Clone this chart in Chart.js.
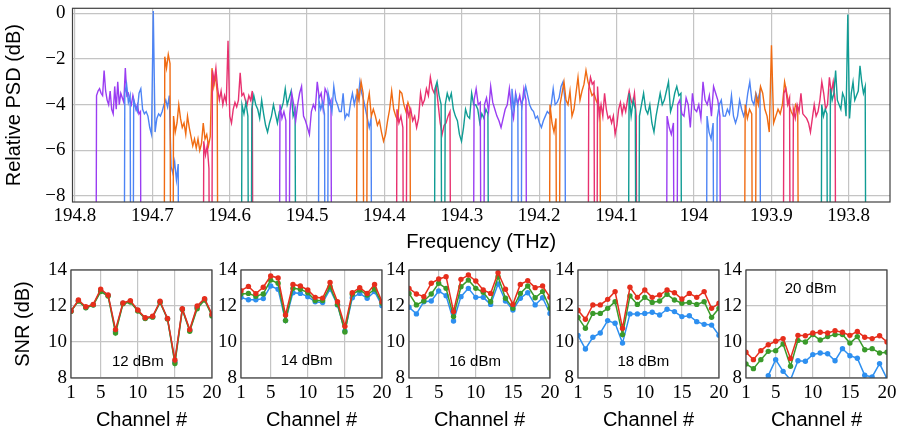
<!DOCTYPE html>
<html>
<head>
<meta charset="utf-8">
<script src="https://cdn.jsdelivr.net/npm/chart.js@4.4.1/dist/chart.umd.min.js"></script>
<style>
    body { margin: 0; background: #fff; }
    #wrap { position: relative; width: 901px; height: 434px; overflow: hidden; }
    canvas { position: absolute; }
</style>
</head>
<body>
<div id="wrap">
    <canvas id="psd" width="901" height="256" style="left:0;top:0;"></canvas>
</div>
<script>
// ---- top panel: measured spectrum, one trace per channel (-30 = drop below axis) ----
const freqTicks = [194.8, 194.7, 194.6, 194.5, 194.4, 194.3, 194.2, 194.1, 194.0, 193.9, 193.8];
const freqLabels = ['194.8', '194.7', '194.6', '194.5', '194.4', '194.3', '194.2', '194.1', '194', '193.9', '193.8'];
const psdTicks = [0, -2, -4, -6, -8];
const psdLabels = ['0', '\u22122', '\u22124', '\u22126', '\u22128'];

const chStart = [194.774, 194.7378, 194.6861, 194.6357, 194.5866, 194.5375, 194.4871, 194.4380, 194.3863, 194.3372,
                 194.2868, 194.2377, 194.1886, 194.1382, 194.0865, 194.0374, 193.9857, 193.9366, 193.8862, 193.8371];
const chEnd   = [194.7133, 194.6642, 194.6138, 194.5685, 194.5129, 194.4665, 194.4148, 194.3643, 194.3127, 194.2636,
                 194.2144, 194.1641, 194.1188, 194.0723, 194.0141, 193.9637, 193.9120, 193.8630, 193.8151, 193.7764];

const ch1 = [-30, -3.6, -3.4, -3.3, -3.5, -3.6, -2.5, -3.4, -3.8, -4.0, -3.4, -4.2, -4.4, -3.2, -4.2, -3.0, -4.0, -3.5, -3.7, -3.9, -2.4, -3.6, -3.5, -3.8, -4.0, -3.6, -3.9, -4.2, -4.0, -4.4, -4.3, -30];
const ch2 = [-30, -3.5, -3.1, -3.9, -3.6, -30, -3.8, -4.1, -4.3, -3.5, -3.3, -4.2, -4.4, -4.3, -4.5, -5.0, -5.3, 0.1, -5.2, -4.6, -4.4, -4.5, -4.3, -4.0, -3.8, -4.1, -3.6, -6.7, -7.0, -6.5, -7.3, -6.6, -30];
const ch3 = [-30, -1.9, -2.4, -1.8, -2.2, -30, -4.5, -5.2, -4.8, -4.0, -4.6, -5.0, -4.8, -5.3, -4.5, -5.0, -5.4, -5.8, -5.5, -5.9, -5.5, -6.0, -5.7, -4.8, -5.5, -5.3, -5.8, -5.4, -2.4, -3.2, -2.7, -3.5, -30];
const ch4 = [-30, -5.6, -6.2, -5.8, -6.8, -30, -2.5, -3.0, -2.4, -3.3, -3.8, -3.4, -4.0, -3.6, -3.9, -1.2, -4.5, -4.8, -4.2, -3.9, -4.1, -3.8, -2.6, -3.6, -3.5, -3.8, -4.0, -3.6, -3.8, -3.4, -30];
const ch5 = [-30, -4.0, -4.4, -3.9, -4.5, -30, -4.2, -3.6, -4.0, -4.2, -4.6, -3.8, -4.4, -4.9, -5.2, -4.8, -4.5, -4.0, -4.4, -4.8, -4.3, -4.2, -3.9, -3.3, -4.0, -3.7, -3.4, -4.5, -4.2, -30];
const ch6 = [-30, -4.0, -4.6, -4.3, -4.7, -30, -4.4, -3.5, -4.0, -4.7, -4.0, -3.5, -3.2, -4.5, -4.7, -5.0, -5.3, -4.3, -4.0, -4.2, -3.0, -3.7, -3.5, -4.2, -3.3, -3.5, -4.0, -3.8, -30];
const ch7 = [-30, -3.8, -4.2, -3.9, -4.4, -30, -3.5, -3.9, -4.3, -3.2, -3.8, -4.0, -4.3, -4.3, -3.5, -4.6, -4.4, -4.5, -3.9, -3.5, -4.0, -3.6, -3.8, -3.0, -3.5, -3.8, -4.2, -4.6, -5.0, -4.6, -30];
const ch8 = [-30, -3.3, -3.8, -3.0, -3.5, -30, -4.0, -3.5, -4.5, -4.2, -4.5, -4.9, -4.7, -5.2, -5.6, -5.3, -4.7, -4.2, -3.4, -4.2, -4.5, -4.7, -3.4, -3.5, -4.0, -4.3, -3.9, -4.2, -30];
const ch9 = [-30, -4.2, -4.8, -4.5, -5.0, -30, -4.0, -4.5, -4.2, -4.7, -4.5, -5.0, -4.6, -3.5, -4.0, -3.8, -3.3, -3.6, -2.8, -3.3, -3.5, -3.2, -4.0, -4.8, -5.3, -4.9, -4.8, -4.5, -4.3, -30];
const ch10 = [-30, -3.3, -3.0, -3.6, -4.0, -30, -4.0, -3.5, -3.8, -3.5, -4.2, -4.5, -4.7, -5.3, -5.6, -5.0, -4.2, -4.5, -4.6, -3.5, -4.0, -4.0, -4.2, -4.8, -4.4, -4.6, -4.2, -4.4, -30];
const ch11 = [-30, -3.8, -3.3, -4.0, -3.9, -30, -4.0, -3.7, -4.3, -3.2, -3.9, -4.2, -4.5, -4.7, -5.0, -4.6, -4.2, -4.0, -3.3, -4.2, -4.6, -3.5, -4.0, -3.6, -4.1, -3.3, -3.8, -30];
const ch12 = [-30, -3.3, -4.2, -3.6, -4.0, -30, -3.9, -3.7, -3.2, -3.6, -4.0, -4.2, -4.3, -4.6, -4.5, -4.8, -5.0, -4.7, -4.5, -4.3, -4.4, -4.0, -3.3, -4.0, -3.9, -3.7, -3.2, -3.0, -3.8, -30];
const ch13 = [-30, -4.0, -4.8, -5.2, -4.6, -30, -4.0, -3.5, -3.0, -3.8, -4.0, -3.4, -4.5, -4.2, -3.5, -2.8, -3.8, -3.4, -3.1, -2.5, -3.0, -3.3, -3.6, -3.5, -3.8, -4.0, -4.2, -30];
const ch14 = [-30, -3.3, -2.8, -3.1, -3.0, -30, -3.2, -4.5, -4.0, -4.5, -3.5, -4.2, -4.6, -4.5, -4.8, -4.5, -5.3, -4.9, -4.2, -3.9, -4.4, -4.0, -4.3, -3.8, -3.4, -3.8, -4.0, -3.5, -4.5, -30];
const ch15 = [-30, -3.5, -4.5, -3.8, -4.2, -30, -4.5, -4.0, -3.5, -4.2, -4.4, -4.0, -4.8, -5.2, -4.5, -4.0, -3.5, -4.0, -3.8, -3.4, -3.0, -4.3, -4.0, -3.5, -3.2, -3.6, -3.5, -30];
const ch16 = [-30, -4.5, -5.0, -5.3, -4.8, -30, -4.0, -3.8, -4.4, -4.5, -3.7, -4.0, -5.0, -3.5, -4.2, -4.3, -4.0, -4.6, -3.0, -3.8, -4.0, -3.6, -4.5, -3.2, -3.5, -3.8, -4.5, -30];
const ch17 = [-30, -4.5, -5.2, -5.5, -4.8, -30, -4.6, -4.0, -3.8, -4.5, -4.5, -4.2, -4.4, -3.6, -4.5, -4.8, -4.5, -3.8, -4.2, -4.5, -4.2, -3.5, -3.0, -3.8, -4.0, -3.5, -3.8, -3.4, -30];
const ch18 = [-30, -4.0, -4.6, -4.2, -4.4, -30, -3.6, -4.0, -3.2, -3.5, -4.2, -4.5, -5.2, -1.4, -4.8, -4.5, -4.2, -4.4, -4.0, -3.0, -3.5, -4.0, -4.3, -4.5, -4.0, -4.2, -30];
const ch19 = [-30, -3.5, -3.3, -4.0, -3.7, -30, -4.2, -4.6, -4.0, -4.3, -3.5, -4.4, -4.5, -4.6, -4.8, -5.2, -4.6, -4.0, -4.5, -4.3, -3.8, -3.0, -3.5, -4.2, -4.0, -2.8, -3.5, -3.0, -3.8, -30];
const ch20 = [-30, -4.0, -4.5, -4.2, -4.4, -30, -3.3, -3.8, -3.5, -2.5, -3.8, -4.0, -4.2, -3.5, -3.7, -4.5, -0.05, -4.6, -3.5, -3.0, -3.8, -3.6, -3.4, -2.3, -3.0, -3.5, -3.2, -30];

const psdTraces = [ch1, ch2, ch3, ch4, ch5, ch6, ch7, ch8, ch9, ch10, ch11, ch12, ch13, ch14, ch15, ch16, ch17, ch18, ch19, ch20];
const traceColors = ['#9a3df2', '#4d84f5', '#f06b12', '#e8316f', '#109c94'];

// ---- bottom panels: SNR per channel at five launch powers ----
const channels = [1, 2, 3, 4, 5, 6, 7, 8, 9, 10, 11, 12, 13, 14, 15, 16, 17, 18, 19, 20];
const chTicks = [1, 5, 10, 15, 20];
const snrTicks = [8, 10, 12, 14];
const powerLabels = ['12 dBm', '14 dBm', '16 dBm', '18 dBm', '20 dBm'];
const labelCh = [10.0, 9.85, 9.9, 9.8, 9.7];
const labelSnr = [8.9, 8.95, 8.9, 8.9, 12.94];

const red12   = [11.72, 12.33, 11.96, 12.09, 12.94, 12.61, 10.69, 12.17, 12.30, 11.78, 11.35, 11.43, 12.26, 11.31, 9.00, 11.85, 10.69, 12.00, 12.41, 11.54];
const green12 = [11.70, 12.27, 11.90, 12.05, 12.80, 12.55, 10.50, 12.12, 12.22, 11.72, 11.30, 11.38, 12.20, 11.28, 8.81, 11.80, 10.60, 11.85, 12.33, 11.45];
const blue12  = [11.72, 12.30, 11.92, 12.07, 12.85, 12.58, 10.60, 12.15, 12.25, 11.75, 11.32, 11.40, 12.22, 11.30, 8.90, 11.82, 10.65, 11.92, 12.36, 11.50];

const red14   = [12.85, 13.09, 12.69, 13.04, 13.67, 13.56, 11.50, 13.20, 13.11, 12.89, 12.48, 12.44, 13.31, 12.24, 10.87, 12.74, 13.02, 12.70, 13.20, 12.24];
const green14 = [12.67, 12.70, 12.54, 12.67, 13.44, 13.26, 11.19, 12.98, 12.93, 12.74, 12.30, 12.30, 13.07, 12.09, 10.56, 12.65, 12.89, 12.61, 12.94, 12.15];
const blue14  = [12.48, 12.35, 12.35, 12.41, 13.11, 12.93, 11.19, 12.74, 12.70, 12.52, 12.24, 12.19, 12.94, 12.06, 10.61, 12.46, 12.70, 12.43, 12.80, 12.02];

const red16   = [12.98, 12.67, 12.52, 13.26, 13.50, 13.63, 11.69, 13.48, 13.72, 13.39, 12.89, 12.70, 13.85, 12.93, 12.09, 13.20, 13.41, 13.02, 13.11, 12.48];
const green16 = [12.70, 12.06, 12.28, 12.67, 13.26, 12.98, 11.41, 13.07, 13.44, 12.98, 12.76, 12.24, 13.63, 12.43, 11.87, 12.70, 13.11, 12.46, 12.80, 11.87];
const blue16  = [11.93, 11.56, 12.24, 12.28, 12.83, 12.57, 11.17, 12.52, 12.98, 12.48, 12.48, 12.09, 13.22, 12.28, 11.78, 12.43, 12.74, 12.06, 12.46, 11.59];

const red18   = [11.76, 11.26, 12.06, 12.06, 12.37, 12.80, 10.76, 13.04, 12.48, 12.89, 12.48, 12.61, 12.89, 12.74, 12.39, 12.70, 12.48, 12.80, 11.87, 12.15];
const green18 = [11.37, 10.76, 11.59, 11.59, 11.87, 12.24, 10.41, 12.56, 12.09, 12.48, 12.20, 12.28, 12.65, 12.33, 12.15, 12.20, 12.09, 12.24, 11.37, 11.87];
const blue18  = [10.37, 9.61, 10.26, 10.50, 11.19, 11.04, 9.94, 11.56, 11.56, 11.59, 11.65, 11.50, 11.82, 11.69, 11.41, 11.46, 11.13, 10.98, 10.94, 10.37];

const red20   = [9.43, 9.02, 9.52, 9.85, 10.04, 10.19, 9.08, 10.37, 10.35, 10.50, 10.54, 10.50, 10.63, 10.54, 10.37, 10.59, 10.26, 10.19, 10.35, 10.00];
const green20 = [8.78, 8.52, 9.02, 9.48, 9.52, 9.89, 8.65, 10.09, 10.00, 10.41, 10.11, 10.30, 10.41, 10.41, 9.94, 10.30, 9.57, 9.63, 9.39, 9.43];
const blue20  = [7.4, 7.1, 7.5, 8.13, 9.02, 8.37, 7.9, 8.96, 8.93, 9.30, 9.39, 9.35, 8.96, 9.63, 9.24, 9.10, 8.15, 8.06, 8.80, 7.96];

const panelRed = [red12, red14, red16, red18, red20];
const panelGreen = [green12, green14, green16, green18, green20];
const panelBlue = [blue12, blue14, blue16, blue18, blue20];
const panelLeft = [71, 241, 409, 578, 746];

const gridCol = '#c4c4c4';
const frameCol = '#404040';
const serif = "'Liberation Serif', serif";
const sans = "'Liberation Sans', Arial, sans-serif";

// tick labels use the global default font (serif); titles and notes set sans explicitly
Chart.defaults.font.family = serif;
Chart.defaults.font.size = 19;
Chart.defaults.color = '#000';

const framePlugin = {
    id: 'frame',
    afterDatasetsDraw(chart) {
        const a = chart.chartArea, c = chart.ctx;
        c.save();
        c.strokeStyle = frameCol;
        c.lineWidth = 1.2;
        c.strokeRect(a.left, a.top, a.right - a.left, a.bottom - a.top);
        c.restore();
    }
};

// ---- top chart ----
const psdSets = psdTraces.map((vals, k) => ({
    data: vals.map((v, i) => ({ x: chStart[k] + (chEnd[k] - chStart[k]) * i / (vals.length - 1), y: v })),
    borderColor: traceColors[k % 5],
    borderWidth: 1.4,
    pointRadius: 0,
    tension: 0,
    order: psdTraces.length - k
}));

new Chart(document.getElementById('psd'), {
    type: 'line',
    data: { datasets: psdSets },
    options: {
        responsive: false,
        animation: false,
        devicePixelRatio: 1,
        layout: { padding: { top: 8.3, right: 11, left: 0, bottom: 0 } },
        plugins: { legend: { display: false }, tooltip: { enabled: false } },
        scales: {
            x: {
                type: 'linear', reverse: true, min: 193.7466, max: 194.8031,
                afterBuildTicks: s => { s.ticks = freqTicks.map(v => ({ value: v })); },
                afterFit: s => { s.height = 54; s.paddingLeft = 0; s.paddingRight = 0; },
                grid: { color: gridCol, lineWidth: 1.2, drawTicks: false },
                border: { display: false },
                ticks: { autoSkip: false, maxRotation: 0, padding: 3, callback: (v, i) => freqLabels[i] },
                title: { display: true, text: 'Frequency (THz)', font: { family: sans, size: 20 }, padding: { top: 0, bottom: 2 } }
            },
            y: {
                min: -8.26, max: 0.22,
                afterBuildTicks: s => { s.ticks = psdTicks.map(v => ({ value: v })); },
                afterFit: s => { s.width = 72.5; s.paddingTop = 0; s.paddingBottom = 0; },
                grid: { color: gridCol, lineWidth: 1.2, drawTicks: false },
                border: { display: false },
                ticks: { autoSkip: false, padding: 7, callback: (v, i) => psdLabels[i] },
                title: { display: true, text: 'Relative PSD (dB)', font: { family: sans, size: 20 }, padding: { top: 2, bottom: 0 } }
            }
        }
    },
    plugins: [framePlugin]
});

// ---- bottom charts ----
const wrap = document.getElementById('wrap');
panelLeft.forEach((left, p) => {
    const cv = document.createElement('canvas');
    cv.width = 219;
    cv.height = 176;
    cv.style.left = (left - 62) + 'px';
    cv.style.top = '258px';
    wrap.appendChild(cv);

    const labelPlugin = {
        id: 'powerLabel',
        afterDatasetsDraw(chart) {
            const c = chart.ctx;
            c.save();
            c.fillStyle = '#000';
            c.font = '15px ' + sans;
            c.textAlign = 'center';
            c.textBaseline = 'middle';
            c.fillText(powerLabels[p], chart.scales.x.getPixelForValue(labelCh[p]), chart.scales.y.getPixelForValue(labelSnr[p]));
            c.restore();
        }
    };

    const mk = (vals, col) => ({
        data: vals.map((v, i) => ({ x: channels[i], y: v })),
        borderColor: col,
        backgroundColor: col,
        borderWidth: 1.5,
        pointRadius: 2.7,
        pointBorderWidth: 0,
        tension: 0
    });

    new Chart(cv, {
        type: 'line',
        data: { datasets: [mk(panelRed[p], '#e62e1c'), mk(panelGreen[p], '#3a9a2a'), mk(panelBlue[p], '#2d8ff0')] },
        options: {
            responsive: false,
            animation: false,
            devicePixelRatio: 1,
            layout: { padding: { top: 12, right: 16, left: 0, bottom: 0 } },
            plugins: { legend: { display: false }, tooltip: { enabled: false } },
            scales: {
                x: {
                    type: 'linear', min: 1, max: 20,
                    afterBuildTicks: s => { s.ticks = chTicks.map(v => ({ value: v })); },
                    afterFit: s => { s.height = 56; s.paddingLeft = 0; s.paddingRight = 0; },
                    grid: { color: gridCol, lineWidth: 1.2, drawTicks: false },
                    border: { display: false },
                    ticks: { autoSkip: false, maxRotation: 0, padding: 4 },
                    title: { display: true, text: 'Channel #', font: { family: sans, size: 20 }, padding: { top: 0, bottom: 2 } }
                },
                y: {
                    min: 8, max: 14,
                    afterBuildTicks: s => { s.ticks = snrTicks.map(v => ({ value: v })); },
                    afterFit: s => { s.width = 62; s.paddingTop = 0; s.paddingBottom = 0; },
                    grid: { color: gridCol, lineWidth: 1.2, drawTicks: false },
                    border: { display: false },
                    ticks: { autoSkip: false, padding: 4 },
                    title: { display: p === 0, text: 'SNR (dB)', font: { family: sans, size: 20 }, padding: { top: 2, bottom: 0 } }
                }
            }
        },
        plugins: [framePlugin, labelPlugin]
    });
});
</script>
</body>
</html>
